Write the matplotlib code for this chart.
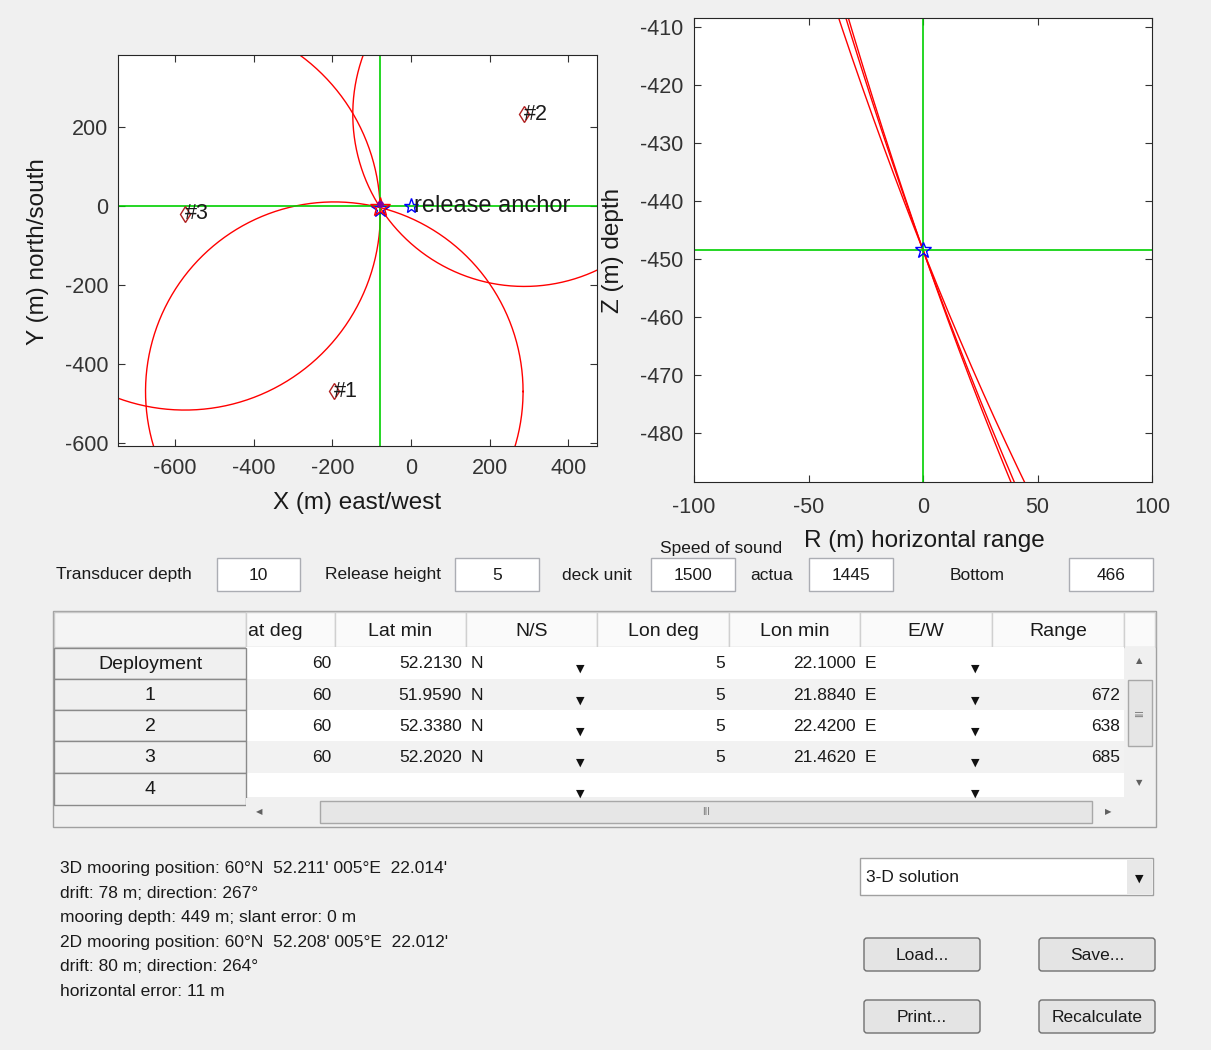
import matplotlib.pyplot as plt
import numpy as np
from matplotlib.patches import Rectangle, FancyBboxPatch

plt.rcParams['font.family'] = ['Liberation Sans', 'DejaVu Sans']
plt.rcParams['axes.unicode_minus'] = False

W, H = 1211, 1050

# transponder positions relative to the deployment position (m)
tp_names = ['#1', '#2', '#3']
tp_x = [-195, 288, -575]
tp_y = [-470, 232, -20]
# horizontal radius of each range circle (m)
tp_radius = [480, 436, 497]

# solutions (m)
sol3d_x, sol3d_y = -78, -4
sol2d_x, sol2d_y = -80, -8
sol_depth = -448.4
transducer_z = -10

# input fields
field_labels = ['Transducer depth', 'Release height', 'deck unit', 'actua', 'Bottom']
field_values = ['10', '5', '1500', '1445', '466']

# table
col_names = ['at deg', 'Lat min', 'N/S', 'Lon deg', 'Lon min', 'E/W', 'Range']
row_names = ['Deployment', '1', '2', '3', '4']
lat_deg = ['60', '60', '60', '60', '']
lat_min = ['52.2130', '51.9590', '52.3380', '52.2020', '']
ns = ['N', 'N', 'N', 'N', '']
lon_deg = ['5', '5', '5', '5', '']
lon_min = ['22.1000', '21.8840', '22.4200', '21.4620', '']
ew = ['E', 'E', 'E', 'E', '']
ranges = ['', '672', '638', '685', '']

info_lines = [
    "3D mooring position: 60°N  52.211' 005°E  22.014'",
    "drift: 78 m; direction: 267°",
    "mooring depth: 449 m; slant error: 0 m",
    "2D mooring position: 60°N  52.208' 005°E  22.012'",
    "drift: 80 m; direction: 264°",
    "horizontal error: 11 m",
]
buttons = ['Load...', 'Save...', 'Print...', 'Recalculate']


def rect(x0, y0, x1, y1):
    return [x0 / W, 1 - y1 / H, (x1 - x0) / W, (y1 - y0) / H]


fig = plt.figure(figsize=(W / 100, H / 100), dpi=100)
fig.patch.set_facecolor('#f0f0f0')

# overlay in pixel coordinates for the GUI parts
ui = fig.add_axes([0, 0, 1, 1])
ui.set_xlim(0, W)
ui.set_ylim(H, 0)
ui.axis('off')
ui.set_zorder(0)


def box(x0, y0, x1, y1, fc='white', ec='#abadb3', lw=1, z=1):
    ui.add_patch(Rectangle((x0, y0), x1 - x0, y1 - y0, fc=fc, ec=ec, lw=lw, zorder=z))


def txt(x, y, s, size=13.5, ha='left', **kw):
    ui.text(x, y, s, fontsize=size, ha=ha, va='center', color='#1a1a1a', **kw)


# ---- plan view ----
axL = fig.add_axes(rect(118, 55, 597, 446))
axL.set_zorder(2)
theta = np.linspace(0, 2 * np.pi, 500)
for cx, cy, r in zip(tp_x, tp_y, tp_radius):
    axL.plot(cx + r * np.cos(theta), cy + r * np.sin(theta), color='red', lw=1)
axL.axvline(sol3d_x, color='#00d000', lw=1.2)
axL.axhline(sol3d_y + 4, color='#00d000', lw=1.2)
axL.plot(tp_x, tp_y, 'd', mfc='none', mec='#b02020', ms=8)
for x, y, n in zip(tp_x, tp_y, tp_names):
    axL.text(x, y, n, fontsize=15.5, va='center', ha='left', color='#1a1a1a')
axL.plot(0, 0, '*', mfc='none', mec='blue', ms=11)
axL.text(8, 0, 'release anchor', fontsize=17, va='center', ha='left', color='#1a1a1a')
axL.plot(sol2d_x, sol2d_y, '*', mfc='none', mec='blue', ms=13)
axL.plot(sol3d_x, sol3d_y, '*', mfc='none', mec='red', ms=15)
axL.plot(sol3d_x, sol3d_y + 10, 'o', color='#8000a0', ms=4)
axL.set_xlim(-745, 473)
axL.set_ylim(-608, 382)
axL.set_xticks([-600, -400, -200, 0, 200, 400])
axL.set_yticks([-600, -400, -200, 0, 200])

# ---- vertical section ----
axR = fig.add_axes(rect(694, 18, 1152, 482))
axR.set_zorder(2)
R = np.linspace(-100, 100, 400)
for h in tp_radius:
    s = np.hypot(h, sol_depth - transducer_z)
    axR.plot(R, transducer_z - np.sqrt(s ** 2 - (R - h) ** 2), color='red', lw=1)
axR.axvline(0, color='#00d000', lw=1.2)
axR.axhline(sol_depth, color='#00d000', lw=1.2)
axR.plot(0, sol_depth, '*', mfc='none', mec='blue', ms=12)
axR.set_xlim(-100, 100)
axR.set_ylim(sol_depth - 40, sol_depth + 40)
axR.set_xticks([-100, -50, 0, 50, 100])
axR.set_yticks(np.arange(-480, -409, 10))

for ax in (axL, axR):
    ax.tick_params(direction='in', top=True, right=True, length=5,
                   labelsize=15.5, labelcolor='#333333', color='#333333')
    for sp in ax.spines.values():
        sp.set_color('#262626')
axL.tick_params(axis='x', pad=9)
axL.tick_params(axis='y', pad=7)
axR.tick_params(axis='x', pad=11)
axR.tick_params(axis='y', pad=8)

txt(357, 503, 'X (m) east/west', size=17.5, ha='center')
txt(38, 252, 'Y (m) north/south', size=17.5, ha='center', rotation=90)
txt(924, 541, 'R (m) horizontal range', size=17.5, ha='center')
txt(613, 250, 'Z (m) depth', size=17.5, ha='center', rotation=90)

# ---- input fields ----
txt(660, 548, 'Speed of sound', size=12.5)
label_x = [56, 325, 562, 750, 950]
box_x = [(217, 300), (455, 539), (651, 735), (809, 893), (1069, 1153)]
for lab, lx, (b0, b1), val in zip(field_labels, label_x, box_x, field_values):
    txt(lx, 575, lab, size=12.5)
    box(b0, 558, b1, 591)
    txt((b0 + b1) / 2, 575, val, size=12.5, ha='center')

# ---- table ----
box(53, 611, 1156, 827, fc='#f0f0f0', ec='#a0a0a0')
col_x = [246, 335, 466, 597, 729, 860, 992, 1124]
row_y = [647, 679, 710, 741, 773, 797]
box(54, 612, 246, 647, fc='#f4f4f4', ec='#c8c8c8')
for i, name in enumerate(col_names):
    box(col_x[i], 612, col_x[i + 1], 647, fc='#fafafa', ec='#d0d0d0')
    txt((col_x[i] + col_x[i + 1]) / 2 if i else 275, 631, name, size=14, ha='center')
box(1124, 612, 1155, 647, fc='#fafafa', ec='#d0d0d0')
for j in range(5):
    y0, y1 = row_y[j], row_y[j + 1]
    box(246, y0, 1124, y1, fc='white' if j % 2 == 0 else '#f2f2f2', ec='none', z=1)
    yc = (y0 + y1) / 2 + 1
    if j == 4:
        yc = y0 + 16
    cells = [(lat_deg, 0), (lat_min, 1), (lon_deg, 3), (lon_min, 4), (ranges, 6)]
    for arr, c in cells:
        txt(col_x[c + 1] - 4, yc, arr[j], size=12.5, ha='right', zorder=3)
    txt(col_x[2] + 5, yc, ns[j], size=12.5, zorder=3)
    txt(col_x[5] + 5, yc, ew[j], size=12.5, zorder=3)
    for ax_x in (580, 975):
        ui.text(ax_x, min(yc + 5, 795), '▼', fontsize=8, ha='center', va='center',
                family='DejaVu Sans', color='#111111', zorder=3)
row_hdr = [648, 679, 710, 741, 773, 805]
for j, name in enumerate(row_names):
    box(54, row_hdr[j], 246, row_hdr[j + 1], fc='#f0f0f0', ec='#8a8a8a', z=2)
    txt(150, (row_hdr[j] + row_hdr[j + 1]) / 2 + 1, name, size=14, ha='center', zorder=3)

# scrollbars
box(1125, 647, 1155, 797, fc='#f0f0f0', ec='none', z=2)
box(1128, 680, 1152, 746, fc='#e6e6e6', ec='#a8a8a8', z=3)
ui.text(1140, 713, 'III', fontsize=7, rotation=90, ha='center', va='center', color='#777777', zorder=4)
ui.text(1139, 661, '▲', fontsize=6, ha='center', va='center', family='DejaVu Sans', color='#606060', zorder=4)
ui.text(1139, 783, '▼', fontsize=6, ha='center', va='center', family='DejaVu Sans', color='#606060', zorder=4)
box(246, 798, 1124, 826, fc='#f0f0f0', ec='none', z=2)
box(320, 801, 1092, 823, fc='#e6e6e6', ec='#a8a8a8', z=3)
ui.text(706, 812, 'III', fontsize=7, ha='center', va='center', color='#777777', zorder=4)
ui.text(259, 812, '◀', fontsize=6, ha='center', va='center', family='DejaVu Sans', color='#606060', zorder=4)
ui.text(1108, 812, '▶', fontsize=6, ha='center', va='center', family='DejaVu Sans', color='#606060', zorder=4)

# ---- result text ----
for k, line in enumerate(info_lines):
    txt(60, 869 + k * 24.4, line, size=12.5)

# popup menu
box(860, 858, 1153, 895, fc='white', ec='#a0a0a0')
box(1127, 860, 1152, 894, fc='#e8e8e8', ec='none')
txt(866, 877, '3-D solution', size=12.5)
ui.text(1139, 879, '▼', fontsize=8, ha='center', va='center', family='DejaVu Sans', color='#111111')

# buttons
btn_pos = [(864, 938), (1039, 938), (864, 1000), (1039, 1000)]
for name, (bx, by) in zip(buttons, btn_pos):
    ui.add_patch(FancyBboxPatch((bx, by), 116, 33, boxstyle='round,pad=0,rounding_size=3',
                                fc='#e4e4e4', ec='#707070', lw=1))
    txt(bx + 58, by + 17, name, size=12.5, ha='center')

fig.savefig('out.png', dpi=100, facecolor=fig.get_facecolor())
